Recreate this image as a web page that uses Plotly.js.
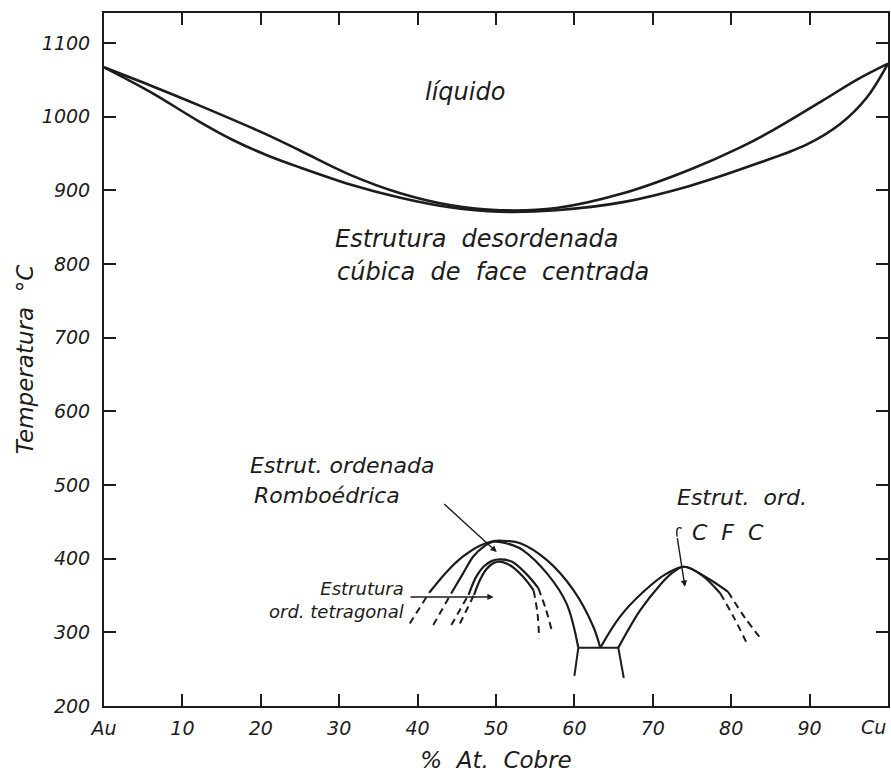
<!DOCTYPE html>
<html>
<head>
<meta charset="utf-8">
<script src="https://cdn.plot.ly/plotly-3.0.1.min.js"></script>
<style>html,body{margin:0;padding:0;background:#fff}#chart{width:891px;height:779px}</style>
</head>
<body>
<div id="chart"></div>
<script>
// ---- Tick labels ----
const xTickVals = [0, 10, 20, 30, 40, 50, 60, 70, 80, 90, 100];
const xTickText = ['Au', '10', '20', '30', '40', '50', '60', '70', '80', '90', ''];
const xEndLabel = 'Cu';   // label of the 100 % tick, drawn right-aligned so it stays inside the page
const yTickVals = [200, 300, 400, 500, 600, 700, 800, 900, 1000, 1100];
const yTickText = ['200', '300', '400', '500', '600', '700', '800', '900', '1000', '1100'];

// ---- Liquidus / solidus (% at. Cu, °C) ----
const liquidusX = [0, 6, 12.2, 20.7, 25, 31.4, 37.8, 44.1, 50.5, 57.7, 66.2, 74.7, 81.1, 85.4, 91.7, 96, 100];
const liquidusT = [1067, 1042, 1015, 976, 954, 921, 896, 880, 873, 876, 896, 928, 958, 982, 1022, 1050, 1072];
const solidusX = [0, 6, 12.2, 16.5, 20.7, 25, 31.4, 37.8, 44.1, 50.5, 57.7, 66.2, 74.7, 83.2, 89.6, 93.9, 97.3, 100];
const solidusT = [1067, 1033, 993, 968, 948, 931, 908, 890, 877, 871, 873, 884, 906, 936, 962, 990, 1026, 1072];

// ---- Ordered rhombohedral / tetragonal region (around 50 % Cu) ----
const arch1X = [41.5, 43.7, 45.8, 48.0, 49.7, 51.4, 53.1, 56.5, 59.9, 62.4, 63.3];
const arch1T = [354, 382, 403, 418, 424, 424, 421, 398, 357, 308, 279];
const arch1DashX = [39.0, 41.5];
const arch1DashT = [312, 354];

const arch2X = [44.3, 45.8, 47.1, 48.4, 49.7, 52.2, 53.5, 56.5, 59.0, 60.5];
const arch2T = [353, 380, 403, 416, 423, 418, 411, 380, 339, 279];
const arch2DashX = [42.0, 44.3];
const arch2DashT = [310, 353];

const arch3X = [46.5, 47.5, 48.4, 49.5, 50.5, 52.0, 53.8, 55.4];
const arch3T = [351, 376, 389, 397, 399, 396, 380, 360];
const arch3DashLX = [44.3, 46.5];
const arch3DashLT = [310, 351];
const arch3DashRX = [55.4, 56.4, 57.1];
const arch3DashRT = [360, 330, 303];

const arch4X = [47.2, 48.0, 48.8, 49.7, 50.4, 51.8, 53.4, 54.8];
const arch4T = [351, 372, 386, 394, 396, 391, 376, 357];
const arch4DashLX = [45.4, 47.2];
const arch4DashLT = [312, 351];
const arch4DashRX = [54.8, 55.3, 55.5];
const arch4DashRT = [357, 325, 292];

// ---- Two-phase bar near 63 % Cu ----
const barX = [60.5, 65.6];
const barT = [279, 279];
const legLeftX = [60.5, 60.0];
const legLeftT = [279, 241];
const legRightX = [65.6, 66.3];
const legRightT = [279, 238];

// ---- Ordered CFC region (around 75 % Cu) ----
const cfcOuterX = [63.3, 65.8, 68.8, 71.8, 74.0, 76.9, 79.6];
const cfcOuterT = [279, 321, 355, 380, 389, 374, 355];
const cfcOuterDashX = [79.6, 81.8, 83.9];
const cfcOuterDashT = [355, 319, 290];
const cfcInnerX = [65.6, 68.4, 70.9, 72.4, 74.0, 76.2, 78.6];
const cfcInnerT = [279, 330, 364, 380, 389, 378, 353];
const cfcInnerDashX = [78.6, 80.3, 82.0];
const cfcInnerDashT = [353, 321, 285];

const INK = '#1c1c1c';
function solid(x, y, w) {
  return {x: x, y: y, type: 'scatter', mode: 'lines', hoverinfo: 'skip', showlegend: false,
          line: {color: INK, width: w || 2.2, shape: 'spline', smoothing: 1}};
}
function dashed(x, y) {
  return {x: x, y: y, type: 'scatter', mode: 'lines', hoverinfo: 'skip', showlegend: false,
          line: {color: INK, width: 2, dash: '7px,5px', shape: 'spline', smoothing: 1}};
}
function straight(x, y) {
  return {x: x, y: y, type: 'scatter', mode: 'lines', hoverinfo: 'skip', showlegend: false,
          line: {color: INK, width: 2}};
}

const traces = [
  solid(liquidusX, liquidusT, 2.6),
  solid(solidusX, solidusT, 2.6),
  solid(arch1X, arch1T), dashed(arch1DashX, arch1DashT),
  solid(arch2X, arch2T), dashed(arch2DashX, arch2DashT),
  solid(arch3X, arch3T), dashed(arch3DashLX, arch3DashLT), dashed(arch3DashRX, arch3DashRT),
  solid(arch4X, arch4T), dashed(arch4DashLX, arch4DashLT), dashed(arch4DashRX, arch4DashRT),
  straight(barX, barT), straight(legLeftX, legLeftT), straight(legRightX, legRightT),
  solid(cfcOuterX, cfcOuterT), dashed(cfcOuterDashX, cfcOuterDashT),
  solid(cfcInnerX, cfcInnerT), dashed(cfcInnerDashX, cfcInnerDashT)
];

const FONT = 'DejaVu Sans';
function label(text, x, y, size, xanchor, align) {
  return {text: text, x: x, y: y, xref: 'x', yref: 'y', showarrow: false,
          xanchor: xanchor || 'left', yanchor: 'middle', align: align || 'left',
          font: {family: FONT, size: size, color: INK, style: 'italic'}};
}
function arrow(x, y, ax, ay) {
  return {text: '', x: x, y: y, ax: ax, ay: ay, xref: 'x', yref: 'y', axref: 'x', ayref: 'y',
          showarrow: true, arrowhead: 2, arrowsize: 0.9, arrowwidth: 1.4, arrowcolor: INK, standoff: 0};
}

const annotations = [
  label('líquido', 46.0, 1033, 24, 'center'),
  label('Estrutura\u00a0\u00a0desordenada', 29.2, 834, 24),
  label('cúbica\u00a0\u00a0de\u00a0\u00a0face\u00a0\u00a0centrada', 29.5, 789, 24),
  label('Estrut.\u00a0ordenada', 18.4, 527, 22),
  label('Romboédrica', 18.9, 486, 22),
  label('Estrutura<br>ord.\u00a0tetragonal', 38.5, 344, 18, 'right', 'right'),
  label('Estrut.\u00a0\u00a0ord.', 72.8, 483, 22),
  label('C\u00a0\u00a0F\u00a0\u00a0C', 74.7, 436, 22),
  {text: xEndLabel, x: 100, y: -0.031, xref: 'x', yref: 'paper', showarrow: false,
   xanchor: 'right', yanchor: 'middle', xshift: 0,
   font: {family: FONT, size: 19, color: INK, style: 'italic'}},
  arrow(50.1, 409, 43.2, 476),
  arrow(49.7, 348, 38.9, 348),
  arrow(74.1, 362, 73.1, 430)
];

const shapes = [
  {type: 'path', xref: 'x', yref: 'y', path: 'M 73.1 430 Q 72.9 446 73.7 441',
   line: {color: INK, width: 1.4}}
];

const axisCommon = {
  ticks: 'inside', ticklen: 12, tickwidth: 2, tickcolor: INK,
  showline: true, linewidth: 2, linecolor: INK, mirror: 'ticks',
  showgrid: false, zeroline: false, automargin: false,
  tickfont: {family: FONT, size: 19, color: INK, style: 'italic'}
};

const layout = {
  width: 891, height: 779,
  margin: {l: 104, r: 3, t: 13, b: 73},
  paper_bgcolor: '#ffffff', plot_bgcolor: '#ffffff',
  showlegend: false,
  font: {family: FONT, color: INK},
  xaxis: Object.assign({}, axisCommon, {
    range: [0, 100], tickmode: 'array', tickvals: xTickVals, ticktext: xTickText,
    ticklabelstandoff: 4,
    title: {text: '%\u00a0\u00a0At.\u00a0\u00a0Cobre', font: {family: FONT, size: 23, color: INK, style: 'italic'}, standoff: 14}
  }),
  yaxis: Object.assign({}, axisCommon, {
    range: [200, 1140.7], tickmode: 'array', tickvals: yTickVals, ticktext: yTickText,
    ticklabelstandoff: 8,
    title: {text: 'Temperatura\u00a0\u00a0°C', font: {family: FONT, size: 23, color: INK, style: 'italic'}, standoff: 2}
  }),
  annotations: annotations,
  shapes: shapes
};

Plotly.newPlot('chart', traces, layout, {staticPlot: true, displayModeBar: false});
</script>
</body>
</html>
